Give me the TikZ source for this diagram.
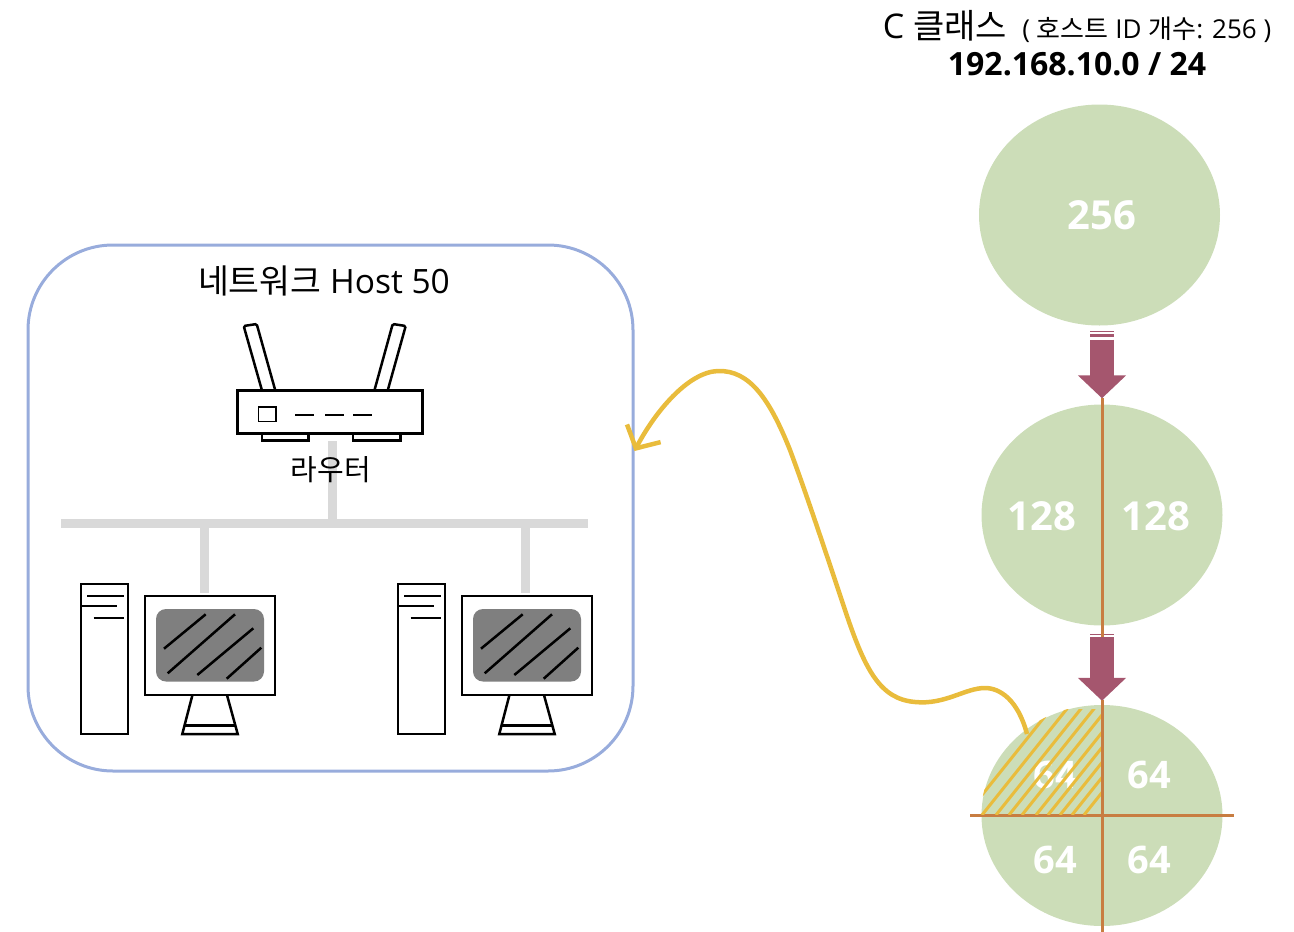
\documentclass[tikz,border=0pt]{standalone}
\usepackage{fontspec}
\setmainfont{Open Sans}
\newfontfamily\kofont{Noto Sans CJK KR}
\usetikzlibrary{shapes.geometric,arrows.meta,positioning,calc}
\definecolor{leafcolor}{RGB}{204,221,184}
\definecolor{arrowcolor}{RGB}{165,86,110}
\definecolor{cutcolor}{RGB}{200,125,65}
\definecolor{pickcolor}{RGB}{233,188,60}
\definecolor{netcolor}{RGB}{152,172,220}
\definecolor{lancolor}{RGB}{217,217,217}
\definecolor{screencolor}{RGB}{127,127,127}
\tikzset{
  blockcircle/.style={ellipse,fill=leafcolor,minimum width=241,minimum height=221,inner sep=0},
  blocknum/.style={text=white,font=\bfseries\fontsize{40}{44}\selectfont,inner sep=0},
  smallnum/.style={text=white,font=\bfseries\fontsize{38}{42}\selectfont,inner sep=0},
  splitarrow/.style={arrowcolor,line width=24,-{Triangle[width=47pt,length=23pt]},shorten >=6pt,shorten <=14pt},
  cutline/.style={cutcolor,line width=3},
  lanline/.style={lancolor,line width=9},
  device/.style={draw=black,line width=2.5,fill=white,inner sep=0},
  devline/.style={black,line width=2.5}
}
\begin{document}
\begin{tikzpicture}[x=1pt,y=-1pt]
\useasboundingbox (0,0) rectangle (1294,932);

% -------- Title --------
\node[inner sep=0] (classtitle) at (1077,26)
{\fontsize{34}{38}\selectfont C {\kofont 클래스} \fontsize{26}{30}\selectfont\ ( {\kofont 호스트} ID {\kofont 개수}: 256 )};
\node[inner sep=0,font=\bfseries\fontsize{32}{36}\selectfont] (classaddr) at (1077,64) {192.168.10.0 / 24};

% -------- Network box --------
\node[draw=netcolor,line width=3,rounded corners=85,minimum width=605,minimum height=526,inner sep=0] (netbox) at (330.5,508) {};
\node[inner sep=0,font=\fontsize{33.5}{37}\selectfont] (nettitle) at (324,281) {{\kofont 네트워크} Host 50};

% -------- Router --------
\draw[device,rounded corners=1.5] (243.7,326) -- (256.7,324) -- (276,393) -- (262.7,393) -- cycle;
\draw[device,rounded corners=1.5] (405.7,326) -- (392.7,324) -- (373.7,393) -- (387,393) -- cycle;
\draw[device] (262,433) rectangle (308.5,440.5);
\draw[device] (353,433) rectangle (400.5,440.5);
\node[device,minimum width=185,minimum height=43] (router) at (330,412) {};
\draw[devline,line width=1.8] (258.5,407) rectangle (276,421.5);
\foreach \dashx in {295,325,353}
  \draw[devline] (\dashx,415) -- ++(18.5,0);

% -------- LAN --------
\node[fill=lancolor,minimum width=527,minimum height=9,inner sep=0] (lanbus) at (324.5,523) {};
\draw[lanline] (332,441) -- (lanbus.center -| 332,0);
\node[inner sep=0,font=\kofont\fontsize{29}{33}\selectfont] (routerlabel) at (331,470) {라우터};

% -------- PCs --------
\foreach \pcx/\pcname in {0/pcleft,317/pcright}{
  \begin{scope}[xshift=\pcx]
    \node[device,minimum width=47,minimum height=150] (\pcname tower) at (104.5,659) {};
    \draw[devline] (87,596) -- (123.5,596);
    \draw[devline] (81,606) -- (116.5,606);
    \draw[devline] (93.5,618) -- (123.5,618);
    \draw[devline,fill=white] (192.7,694) -- (182.3,734) -- (237.7,734) -- (226.7,694);
    \draw[devline] (185,725.7) -- (235,725.7);
    \node[device,minimum width=130,minimum height=99] (\pcname) at (210,645.5) {};
    \fill[screencolor,rounded corners=10] (156,609) rectangle (264,681.5);
    \draw[devline] (164,648.7) -- (205.7,614.3);
    \draw[devline] (167.7,673.3) -- (235,614.3);
    \draw[devline] (197.3,675) -- (253.3,628.3);
    \draw[devline] (226.7,678.7) -- (261.3,647.7);
  \end{scope}
}
\draw[lanline,shorten >=2pt] (lanbus.center -| 204.5,0) -- ([xshift=-5.5]pcleft.north);
\draw[lanline,shorten >=2pt] (lanbus.center -| 525,0) -- ([xshift=-2]pcright.north);

% -------- Block circles --------
\node[blockcircle] (block256) at (1099.5,215) {};
\node[blockcircle] (block128) at (1102,515) {};
\node[blockcircle] (block64) at (1102,815.5) {};
\node[blocknum] (num256) at (1102,215) {256};
\node[blocknum] (num128a) at (1042,516) {128};
\node[blocknum] (num128b) at (1156,516) {128};
\node[smallnum] (num64a) at (1055,775) {64};
\node[smallnum] (num64b) at (1149,775) {64};
\node[smallnum] (num64c) at (1055,860) {64};
\node[smallnum] (num64d) at (1149,860) {64};

% -------- Split arrows --------
\coordinate (top256) at (block128.north |- block256.south);
\draw[splitarrow] (top256) -- (block128.north);
\draw[splitarrow,shorten >=4pt] (block128.south) -- (block64.north);
\foreach \arrowy in {331,634}{
  \fill[arrowcolor] (1090,\arrowy) rectangle (1114,\arrowy+1.4);
  \fill[arrowcolor] (1090,\arrowy+2.8) rectangle (1114,\arrowy+6);
}

% -------- Cut lines --------
\draw[cutline] (1102,398) -- (1102,637);
\draw[cutline] (1102,700) -- (1102,932);
\draw[cutline] (970,815.5) -- (1234,815.5);

% -------- Hatch --------
\begin{scope}
  \clip (block64.center) ellipse [x radius=121,y radius=111];
  \clip (960,709) rectangle (1103,814);
  \foreach \hatchx in {966,982,996,1009,1022,1036,1048,1060,1072,1084}
    \draw[pickcolor,line width=3] (\hatchx,815) -- ++(100,-125);
\end{scope}
\draw[cutline] (1102,709) -- (1102,815);

% -------- Curve to the network --------
\coordinate (pickstart) at (1027,734);
\coordinate (pickend) at (netbox.east |- 0,451);
\draw[pickcolor,line width=4.5,-{Straight Barb[length=17pt,width=38pt]}] (pickstart)
  .. controls (1018,700) and (1000,688) .. (985,688)
  .. controls (965,688) and (945,705) .. (915,702)
  .. controls (880,699) and (865,670) .. (845,610)
  .. controls (825,550) and (805,490) .. (790,450)
  .. controls (770,400) and (750,370) .. (718,371)
  .. controls (688,372) and (655,412) .. (pickend);

\end{tikzpicture}
\end{document}
